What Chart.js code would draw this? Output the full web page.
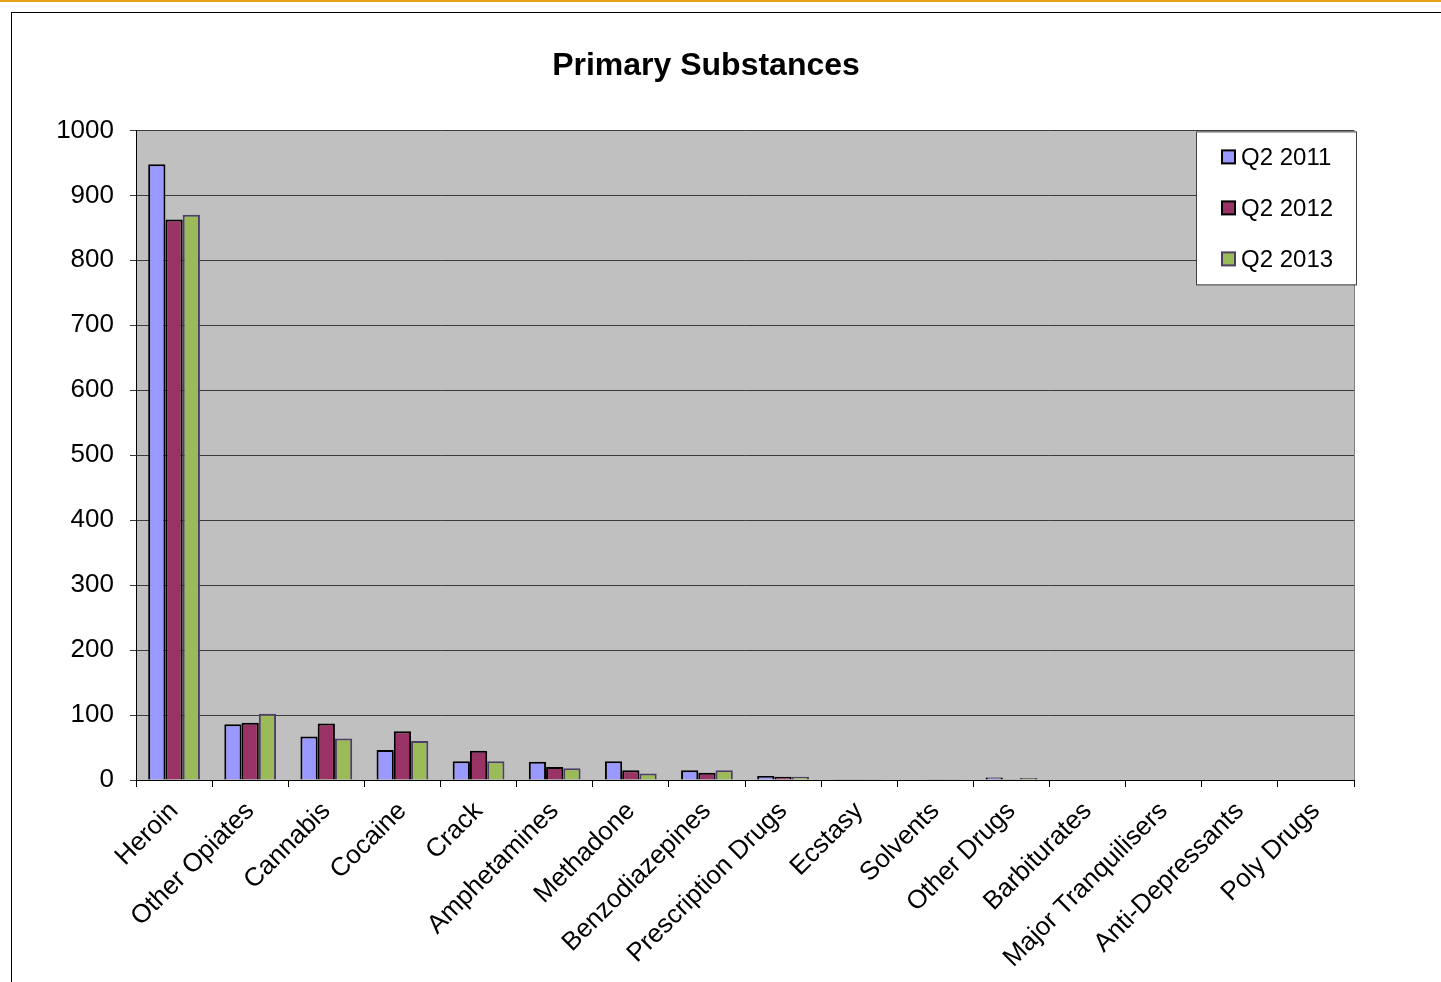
<!DOCTYPE html>
<html>
<head>
<meta charset="utf-8">
<script src="https://cdn.jsdelivr.net/npm/chart.js@4/dist/chart.umd.min.js"></script>
<style>
  html, body { margin: 0; padding: 0; background: #fff; }
  body { width: 1441px; height: 982px; position: relative; overflow: hidden; }
  .topline { position: absolute; left: 0; top: 0; width: 1441px; height: 2px; background: #E3A21A; }
  .frame { position: absolute; left: 11px; top: 12px; width: 1500px; height: 1100px; border: 1px solid #000; }
  #wrap { position: absolute; left: 0; top: 0; width: 1441px; height: 982px; }
</style>
</head>
<body>
<div class="topline"></div>
<div class="frame"></div>
<div id="wrap"><canvas id="myChart"></canvas></div>
<script>
const categories = [
  'Heroin', 'Other Opiates', 'Cannabis', 'Cocaine', 'Crack', 'Amphetamines',
  'Methadone', 'Benzodiazepines', 'Prescription Drugs', 'Ecstasy', 'Solvents',
  'Other Drugs', 'Barbiturates', 'Major Tranquilisers', 'Anti-Depressants', 'Poly Drugs',
]
const q2_2011 = [948, 86, 67, 46, 29, 28, 29, 15, 6, 1, 0, 4, 0, 0, 0, 0]
const q2_2012 = [863, 88, 87, 75, 45, 20, 15, 11, 5, 1, 1, 1, 0, 0, 0, 0]
const q2_2013 = [870, 102, 64, 60, 29, 18, 10, 15, 5, 1, 1, 3, 0, 0, 0, 0]
const yTicks = [0, 100, 200, 300, 400, 500, 600, 700, 800, 900, 1000]

const font = "'Liberation Sans', Arial, sans-serif"

// grey plot background + right border
const plotArea = {
  id: 'plotArea',
  beforeDraw(chart) {
    const { ctx, chartArea: a } = chart
    ctx.save()
    ctx.fillStyle = '#C0C0C0'
    ctx.fillRect(a.left, a.top, a.right - a.left, a.bottom - a.top)
    ctx.restore()
  },
  afterDatasetsDraw(chart) {
    const { ctx, chartArea: a } = chart
    ctx.save()
    ctx.strokeStyle = '#808080'
    ctx.lineWidth = 1
    ctx.beginPath()
    ctx.moveTo(a.right + 0.5, a.top)
    ctx.lineTo(a.right + 0.5, a.bottom)
    ctx.stroke()
    ctx.restore()
  },
}

// boxed legend sitting inside the plot, top right
const boxLegend = {
  id: 'boxLegend',
  afterDraw(chart) {
    const { ctx, chartArea: a } = chart
    const x = a.right - 158, y = a.top + 1, w = 160, h = 153
    ctx.save()
    ctx.fillStyle = '#fff'
    ctx.fillRect(x, y, w, h)
    ctx.strokeStyle = '#404040'
    ctx.lineWidth = 1
    ctx.strokeRect(x + 0.5, y + 0.5, w, h)
    ctx.font = '24px ' + font
    ctx.textBaseline = 'middle'
    chart.data.datasets.forEach((ds, i) => {
      const cy = y + 26 + i * 51
      ctx.fillStyle = ds.backgroundColor
      ctx.fillRect(x + 26, cy - 7, 13, 13)
      ctx.strokeStyle = ds.borderColor
      ctx.lineWidth = 2
      ctx.strokeRect(x + 26, cy - 7, 13, 13)
      ctx.fillStyle = '#000'
      ctx.fillText(ds.label, x + 45, cy + 1)
    })
    ctx.restore()
  },
}

const bw = (c) => (c.raw === 0 ? 0 : 2)

const data = {
  labels: categories,
  datasets: [
    { label: 'Q2 2011', data: q2_2011, backgroundColor: '#9999FF', borderColor: '#000000', borderWidth: bw },
    { label: 'Q2 2012', data: q2_2012, backgroundColor: '#993366', borderColor: '#000000', borderWidth: bw },
    { label: 'Q2 2013', data: q2_2013, backgroundColor: '#9BBB59', borderColor: '#4E3D66', borderWidth: bw },
  ],
}

const config = {
  type: 'bar',
  data: data,
  options: {
    responsive: false,
    animation: false,
    devicePixelRatio: 1,
    layout: { padding: { left: 58, right: 87, top: 47, bottom: 0 } },
    datasets: { bar: { categoryPercentage: 0.68, barPercentage: 1.0, borderSkipped: 'start' } },
    plugins: {
      legend: { display: false },
      tooltip: { enabled: false },
      title: {
        display: true,
        text: 'Primary Substances',
        color: '#000',
        font: { family: font, size: 32, weight: 'bold' },
        padding: { top: 0, bottom: 45 },
      },
    },
    scales: {
      x: {
        grid: { display: true, drawOnChartArea: false, color: '#000', tickLength: 7, offset: true },
        border: { color: '#000', width: 1 },
        ticks: {
          color: '#000',
          font: { family: font, size: 26 },
          maxRotation: 45,
          minRotation: 45,
          padding: 9,
          autoSkip: false,
        },
        afterFit: (s) => { s.height = 202 },
      },
      y: {
        min: 0,
        max: 1000,
        afterBuildTicks: (s) => { s.ticks = yTicks.map((v) => ({ value: v })) },
        grid: { color: '#3a3a3a', tickLength: 6 },
        border: { color: '#000', width: 1 },
        ticks: { color: '#000', font: { family: font, size: 26 }, padding: 16, callback: (v) => String(v) },
        afterFit: (s) => { s.width = 78 },
      },
    },
  },
  plugins: [plotArea, boxLegend],
}

const canvas = document.getElementById('myChart')
canvas.width = 1441
canvas.height = 982
const myChart = new Chart(canvas.getContext('2d'), config)
</script>
</body>
</html>
